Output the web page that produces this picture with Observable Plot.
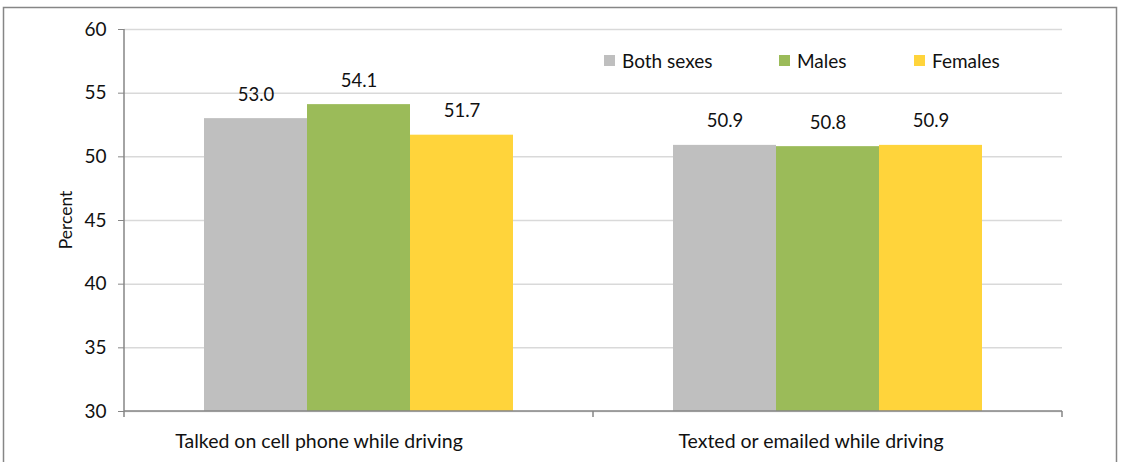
<!DOCTYPE html>
<html>
<head>
<meta charset="utf-8">
<script src="https://cdn.jsdelivr.net/npm/d3@7"></script>
<script src="https://cdn.jsdelivr.net/npm/@observablehq/plot@0.6"></script>
<style>
  html, body { margin: 0; padding: 0; background: #fff; }
  #wrap { position: relative; width: 1121px; height: 462px; overflow: hidden; font-family: Lato, "Open Sans", sans-serif; }
  #legend { position: absolute; top: 49px; left: 604px; font-size: 19px; color: #111; }
  #legend .item { display: flex; align-items: center; position: absolute; white-space: nowrap; top: 0; height: 22px; }
  #legend .sw { width: 11px; height: 11px; margin-right: 7px; }
</style>
</head>
<body>
<div id="wrap"></div>
<script>
const categories = ["Talked on cell phone while driving", "Texted or emailed while driving"];
const sexes = ["Both sexes", "Males", "Females"];
const bothSexes = [53.0, 50.9];
const males = [54.1, 50.8];
const females = [51.7, 50.9];
const colors = ["#BFBFBF", "#9BBB59", "#FFD43B"];
const yTicks = [30, 35, 40, 45, 50, 55, 60];

const series = [bothSexes, males, females];
const data = [];
categories.forEach((c, i) => sexes.forEach((s, j) => data.push({category: c, sex: s, value: series[j][i]})));

const font = 'Lato, "Open Sans", sans-serif';
const plot = Plot.plot({
  width: 1121,
  height: 462,
  marginLeft: 123,
  marginRight: 59,
  marginTop: 29,
  marginBottom: 51,
  style: {fontFamily: font, fontSize: "19px", color: "#111", background: "transparent"},
  fx: {domain: categories, padding: 0, label: null, axis: null},
  x: {domain: sexes, paddingInner: 0, paddingOuter: 0.757, axis: null},
  y: {domain: [30, 60], label: null},
  color: {domain: sexes, range: colors},
  marks: [
    Plot.gridY(yTicks, {stroke: "#D9D9D9", strokeOpacity: 1, strokeWidth: 1.5}),
    Plot.rectY(data, {fx: "category", x: "sex", y1: 30, y2: "value", fill: "sex"}),
    Plot.text(data, {fx: "category", x: "sex", y: "value", text: d => d.value.toFixed(1), lineAnchor: "bottom", dy: -18, fontSize: 18.5, fill: "#111"}),
    Plot.axisY(yTicks, {tickSize: 6, tickPadding: 12, stroke: "#868686", fontSize: 19, label: null}),
    Plot.text([categories[0]], {fx: d => d, text: d => d, frameAnchor: "bottom", lineAnchor: "middle", dy: 30, dx: -40, fontSize: 19.5, fill: "#111"}),
    Plot.text([categories[1]], {fx: d => d, text: d => d, frameAnchor: "bottom", lineAnchor: "middle", dy: 30, dx: -17, fontSize: 19.5, fill: "#111"})
  ]
});

const wrap = document.getElementById("wrap");
wrap.appendChild(plot);

const svg = d3.select(plot);
const y = plot.scale("y");
const fx = plot.scale("fx");
const y0 = y.apply(30), yTop = y.apply(60);
const left = fx.apply(categories[0]);
const right = fx.apply(categories[categories.length - 1]) + fx.bandwidth;
const g = svg.append("g").attr("stroke", "#868686").attr("stroke-width", 1.5).attr("fill", "none");
g.append("line").attr("x1", left).attr("x2", left).attr("y1", yTop).attr("y2", y0);
g.append("line").attr("x1", left).attr("x2", right).attr("y1", y0).attr("y2", y0);
const bounds = categories.map(c => fx.apply(c)).concat([right]);
bounds.forEach(b => g.append("line").attr("x1", b).attr("x2", b).attr("y1", y0).attr("y2", y0 + 6));
// Outer chart border
svg.append("rect").attr("x", 3.5).attr("y", 7.5).attr("width", 1113).attr("height", 480)
  .attr("fill", "none").attr("stroke", "#868686").attr("stroke-width", 1.5);
// Y axis title
svg.append("text").attr("transform", `translate(72,${(y0 + yTop) / 2}) rotate(-90)`)
  .attr("text-anchor", "middle").attr("font-size", 17.5).attr("fill", "#111").text("Percent");

// Legend
const legend = document.createElement("div");
legend.id = "legend";
sexes.forEach((s, i) => {
  const it = document.createElement("div");
  it.className = "item";
  it.style.left = [0, 175, 310][i] + "px";
  const sw = document.createElement("div");
  sw.className = "sw";
  sw.style.background = colors[i];
  it.appendChild(sw);
  it.appendChild(document.createTextNode(s));
  legend.appendChild(it);
});
wrap.appendChild(legend);
</script>
</body>
</html>
